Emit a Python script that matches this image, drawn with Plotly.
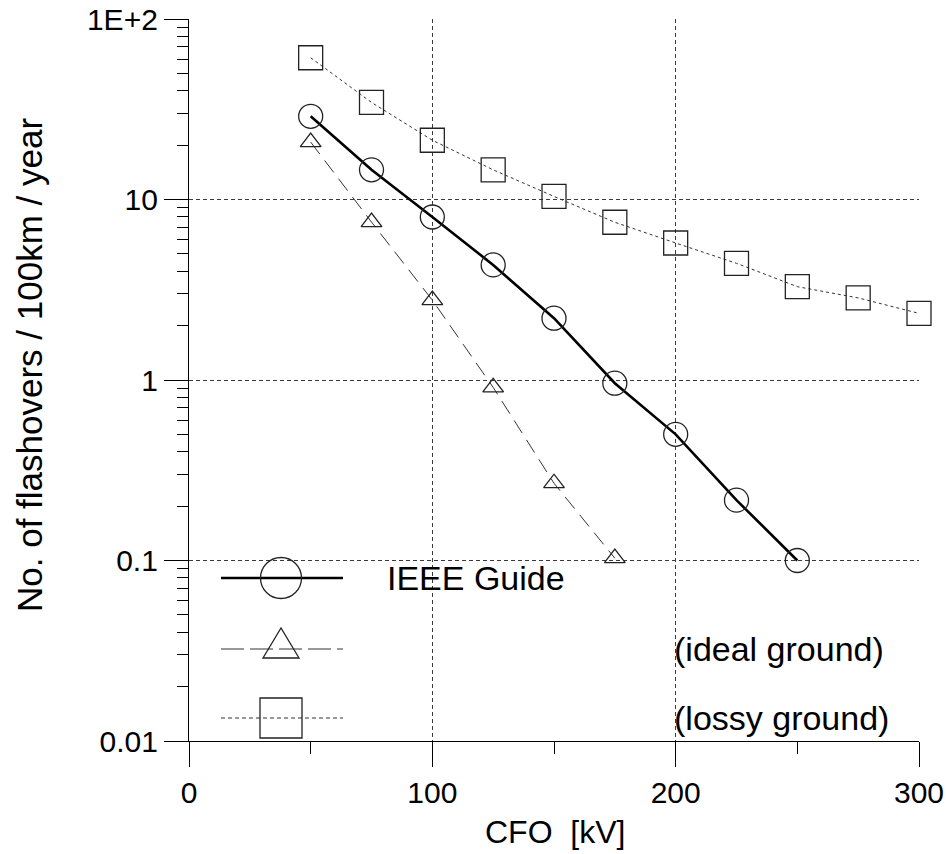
import plotly.graph_objects as go

# Flashover rate versus critical flashover voltage (CFO)
cfo_ieee = [50, 75, 100, 125, 150, 175, 200, 225, 250]
rate_ieee = [28.9, 14.6, 8.0, 4.34, 2.2, 0.96, 0.50, 0.216, 0.10]

cfo_ideal = [50, 75, 100, 125, 150, 175]
rate_ideal = [20.8, 7.5, 2.77, 0.91, 0.268, 0.103]

cfo_lossy = [50, 75, 100, 125, 150, 175, 200, 225, 250, 275, 300]
rate_lossy = [61, 34.5, 21.3, 14.6, 10.4, 7.48, 5.74, 4.43, 3.29, 2.85, 2.34]

x_ticks = [0, 100, 200, 300]
x_minor = [50, 150, 250]
y_ticks = [0.01, 0.1, 1, 10, 100]
y_ticktext = ["0.01", "0.1", "1", "10", "1E+2"]
y_minor = [m * 10.0 ** k for k in range(-2, 2) for m in range(2, 10)]

legend_labels = ["IEEE Guide", "(ideal ground)", "(lossy ground)"]

FONT = "Liberation Sans, Arial, sans-serif"
W, H = 946, 854
L, R, T, B = 189, 27, 19, 113
PW, PH = W - L - R, H - T - B


def px_x(p):
    return (p - L) / PW


def px_y(p):
    return (H - B - p) / PH


fig = go.Figure()

fig.add_trace(go.Scatter(
    x=cfo_lossy, y=rate_lossy, mode="lines+markers", cliponaxis=False,
    line=dict(color="#333333", width=1, dash="3px,3px"),
    marker=dict(symbol="square-open", size=24, color="#222222",
                line=dict(width=1.3, color="#222222")),
))
fig.add_trace(go.Scatter(
    x=cfo_ideal, y=rate_ideal, mode="lines+markers", cliponaxis=False,
    line=dict(color="#333333", width=1, dash="15px,8px"),
    marker=dict(symbol="triangle-up-open", size=18, color="#222222",
                line=dict(width=1.3, color="#222222")),
))
fig.add_trace(go.Scatter(
    x=cfo_ieee, y=rate_ieee, mode="lines+markers", cliponaxis=False,
    line=dict(color="black", width=2.6),
    marker=dict(symbol="circle-open", size=24, color="#222222",
                line=dict(width=1.3, color="#222222")),
))

# Hand-drawn key inside the plot area
shapes = []
annotations = []
rows = [578, 649, 718]
line_x0, line_x1, mark_x = 221, 343, 281
dashes = ["solid", "23px,6px", "4px,3px"]
widths = [2.6, 1, 1]
for row, dash, w in zip(rows, dashes, widths):
    shapes.append(dict(type="line", xref="paper", yref="paper",
                       x0=px_x(line_x0), x1=px_x(line_x1),
                       y0=px_y(row), y1=px_y(row),
                       line=dict(color="black" if w > 2 else "#333333", width=w, dash=dash)))

mk = dict(xref="paper", yref="paper", xsizemode="pixel", ysizemode="pixel",
          line=dict(color="#222222", width=1.3))
shapes.append(dict(type="circle", xanchor=px_x(mark_x), yanchor=px_y(rows[0]),
                   x0=-20.5, x1=20.5, y0=-20.5, y1=20.5, **mk))
shapes.append(dict(type="path", xanchor=px_x(mark_x), yanchor=px_y(rows[1]),
                   path="M -18,-9 L 18,-9 L 0,21 Z", **mk))
shapes.append(dict(type="rect", xanchor=px_x(mark_x), yanchor=px_y(rows[2]),
                   x0=-21, x1=21, y0=-20, y1=20, **mk))

text_x = [385, 672, 672]
for label, tx, row in zip(legend_labels, text_x, rows):
    annotations.append(dict(text=label, xref="paper", yref="paper",
                            x=px_x(tx), y=px_y(row), xanchor="left", yanchor="middle",
                            showarrow=False, font=dict(family=FONT, size=34, color="black")))

# Axis titles
annotations.append(dict(text="CFO  [kV]", xref="paper", yref="paper",
                        x=px_x(555), y=px_y(832), xanchor="center", yanchor="middle",
                        showarrow=False, font=dict(family=FONT, size=32, color="black")))
annotations.append(dict(text="No. of flashovers / 100km / year", xref="paper", yref="paper",
                        x=px_x(29), y=px_y(365), xanchor="center", yanchor="middle",
                        textangle=-90, showarrow=False,
                        font=dict(family=FONT, size=35, color="black")))

grid = dict(showgrid=True, gridcolor="#3a3a3a", gridwidth=1, griddash="4px,3px")

fig.update_layout(
    width=W, height=H,
    margin=dict(l=L, r=R, t=T, b=B, autoexpand=False),
    plot_bgcolor="white", paper_bgcolor="white",
    showlegend=False,
    font=dict(family=FONT, color="black"),
    shapes=shapes, annotations=annotations,
    xaxis=dict(range=[0, 300], tickvals=x_ticks, ticks="outside", ticklen=25,
               tickwidth=1, tickcolor="black", showline=True, linecolor="black",
               linewidth=1.3, zeroline=False, tickfont=dict(size=30), automargin=False,
               minor=dict(tickvals=x_minor, ticks="outside", ticklen=12,
                          tickcolor="black", tickwidth=1, showgrid=False),
               **grid),
    yaxis=dict(type="log", range=[-2, 2], tickvals=y_ticks, ticktext=y_ticktext,
               ticks="outside", ticklen=24, tickwidth=1, tickcolor="black",
               showline=True, linecolor="black", linewidth=1.3, zeroline=False,
               tickfont=dict(size=30), automargin=False,
               minor=dict(tickvals=y_minor, ticks="outside", ticklen=11,
                          tickcolor="black", tickwidth=1, showgrid=False),
               **grid),
)

fig.write_html("out.html")
